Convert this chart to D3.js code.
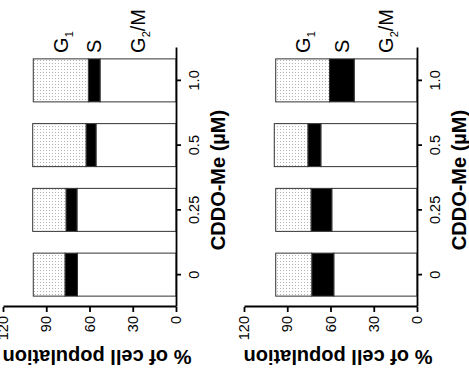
<!DOCTYPE html>
<html>
<head>
<meta charset="utf-8">
<script src="https://cdn.jsdelivr.net/npm/d3@7"></script>
<style>
  html, body { margin: 0; padding: 0; background: #fff; }
  svg { display: block; font-family: "Liberation Sans", Arial, sans-serif; }
</style>
</head>
<body>
<svg id="chart" width="469" height="377"></svg>
<script>
// doses on the category axis
const doses = ['0', '0.25', '0.5', '1.0'];
const phases = ['G2M', 'S', 'G1']; // stacked from the axis outwards
const valueTicks = [0, 30, 60, 90, 120];

// panel A (left in the picture)
const g2mA = [68.4, 68.7, 55.5, 52.7];
const sA   = [8.6, 7.6, 6.9, 8.1];
const g1A  = [22.0, 23.1, 37.0, 38.2];

// panel B (right in the picture)
const g2mB = [57.7, 59.1, 66.7, 43.6];
const sB   = [15.3, 14.4, 9.0, 17.1];
const g1B  = [25.0, 24.5, 23.3, 37.3];

const svg = d3.select('#chart');

const defs = svg.append('defs');
const pat = defs.append('pattern')
    .attr('id', 'dots')
    .attr('patternUnits', 'userSpaceOnUse')
    .attr('width', 3).attr('height', 3);
pat.append('rect').attr('width', 3).attr('height', 3).attr('fill', '#fff');
pat.append('rect').attr('x', 1).attr('y', 1).attr('width', 1).attr('height', 1).attr('fill', '#b4b4b4');

const fills = {G2M: '#fff', S: '#000', G1: 'url(#dots)'};

// the figure is drawn upright, then turned a quarter turn anticlockwise
const root = svg.append('g').attr('transform', 'translate(0,377) rotate(-90)');

const x = d3.scaleBand().domain(doses).range([70, 329])
    .paddingInner(0.336).paddingOuter(0.168);

function drawPanel(zero, g2m, s, g1) {
  const rows = doses.map((d, i) => ({dose: d, G2M: g2m[i], S: s[i], G1: g1[i]}));
  const y = d3.scaleLinear().domain([0, 120]).range([zero, zero - 173]);
  const series = d3.stack().keys(phases)(rows);

  const bars = root.append('g');
  series.forEach(ser => {
    bars.append('g')
        .attr('fill', fills[ser.key])
        .attr('stroke', '#333')
        .attr('stroke-width', 1)
      .selectAll('rect')
      .data(ser)
      .join('rect')
        .attr('x', d => x(d.data.dose))
        .attr('width', x.bandwidth())
        .attr('y', d => y(d[1]))
        .attr('height', d => y(d[0]) - y(d[1]));
  });

  const xAxis = root.append('g')
      .attr('transform', `translate(0,${zero})`)
      .call(d3.axisBottom(x).tickSize(5).tickPadding(8).tickSizeOuter(0));
  const yAxis = root.append('g')
      .attr('transform', 'translate(70,0)')
      .call(d3.axisLeft(y).tickValues(valueTicks).tickSize(5).tickPadding(4).tickSizeOuter(0));
  [xAxis, yAxis].forEach(a => {
    a.selectAll('path, line').attr('stroke', '#000').attr('stroke-width', 1.8);
    a.selectAll('text').attr('font-size', 14.5).attr('fill', '#000')
      .attr('font-family', '"Liberation Sans", Arial, sans-serif');
  });

  root.append('text')
      .attr('x', 197).attr('y', zero + 49)
      .attr('text-anchor', 'middle')
      .attr('font-size', 20).attr('font-weight', 'bold')
      .text('CDDO-Me (\u00b5M)');

  root.append('text')
      .attr('transform', `translate(27,${zero - 79}) rotate(-90)`)
      .attr('text-anchor', 'middle')
      .attr('font-size', 20).attr('font-weight', 'bold')
      .text('% of cell population');

  // phase labels next to the last bar
  const last = doses[doses.length - 1];
  const lx = x(last) + x.bandwidth() + 6;
  series.forEach(ser => {
    const seg = ser[ser.length - 1];
    const t = root.append('text')
        .attr('x', lx)
        .attr('y', y((seg[0] + seg[1]) / 2))
        .attr('dy', '0.36em')
        .attr('font-size', 20);
    if (ser.key === 'S') {
      t.text('S');
    } else if (ser.key === 'G1') {
      t.append('tspan').text('G');
      t.append('tspan').attr('font-size', 11).attr('dy', 5).text('1');
    } else {
      t.append('tspan').text('G');
      t.append('tspan').attr('font-size', 11).attr('dy', 5).text('2');
      t.append('tspan').attr('dy', -5).text('/M');
    }
  });
}

drawPanel(176, g2mA, sA, g1A);
drawPanel(417, g2mB, sB, g1B);
</script>
</body>
</html>
